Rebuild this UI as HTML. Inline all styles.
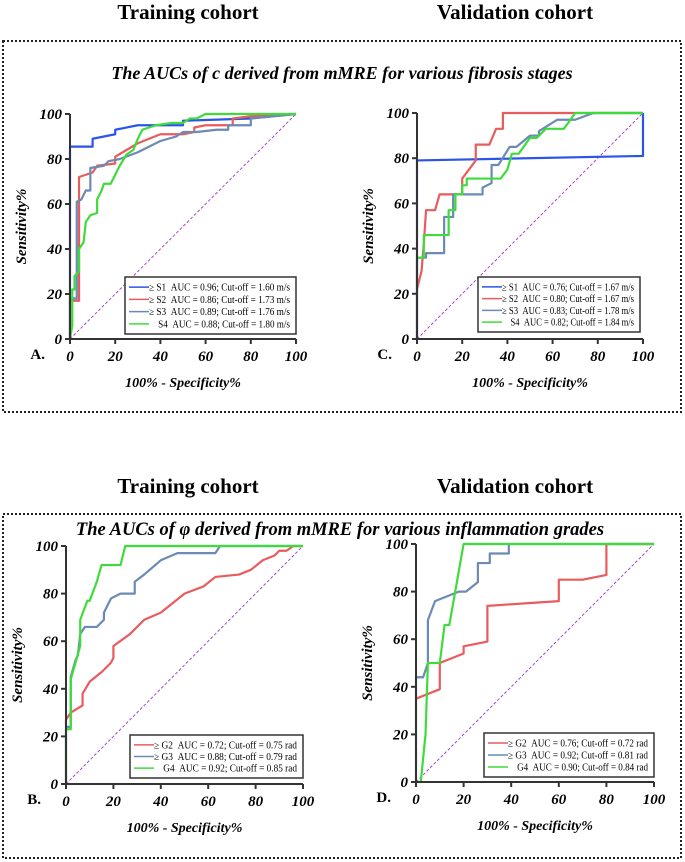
<!DOCTYPE html>
<html><head><meta charset="utf-8"><style>
body{margin:0;background:#fff;}
svg{display:block;font-family:"Liberation Serif",serif;}
</style></head><body>
<svg id="fig" width="685" height="862" viewBox="0 0 685 862">
<text x="188" y="19" text-anchor="middle" font-size="21" font-weight="bold">Training cohort</text>
<text x="515" y="19" text-anchor="middle" font-size="21" font-weight="bold">Validation cohort</text>
<rect x="3" y="41" width="678" height="371" fill="none" stroke="#222" stroke-width="2" stroke-dasharray="2,2"/>
<text x="342" y="79" text-anchor="middle" font-size="18" font-weight="bold" font-style="italic">The AUCs of  c derived from mMRE for various fibrosis stages</text>
<text x="188" y="493" text-anchor="middle" font-size="21" font-weight="bold">Training cohort</text>
<text x="515" y="493" text-anchor="middle" font-size="21" font-weight="bold">Validation cohort</text>
<rect x="3" y="514" width="678" height="344" fill="none" stroke="#222" stroke-width="2" stroke-dasharray="2,2"/>
<text x="340" y="535" text-anchor="middle" font-size="18.5" font-weight="bold" font-style="italic">The AUCs of  φ  derived from mMRE for various inflammation grades</text>
</svg>
<script>
const ticks=[0,20,40,60,80,100];
const namesA=["≥ S1  AUC = 0.96; Cut-off = 1.60 m/s","≥ S2  AUC = 0.86; Cut-off = 1.73 m/s","≥ S3  AUC = 0.89; Cut-off = 1.76 m/s","    S4  AUC = 0.88; Cut-off = 1.80 m/s"];
const a1=[[0,0],[0,85.5],[10,85.5],[10,89],[20,91],[20,93],[30,95],[50,95],[50,97],[80,98],[100,100]];
const a2=[[0,0],[0,17],[4,17],[4,72],[10,74],[12,77],[20,78],[20,81],[25,84],[30,87],[40,91],[50,91],[55,92],[55,94],[60,95],[72,95],[72,98],[80,99],[100,100]];
const a3=[[0,0],[0,18],[3,18],[3,61],[5,62],[7,66],[9,66],[9,76],[15,77],[17,79],[22,80],[30,83],[40,88],[47,90],[50,92],[56,92],[65,93],[70,93],[70,95],[80,95],[80,98],[100,100]];
const a4=[[0,0],[1,6],[1,22],[2,22],[2,28],[4,30],[4,40],[6,43],[7,52],[9,55],[12,56],[12,62],[14,66],[15,69],[18,69],[20,73],[22,77],[25,82],[28,84],[30,89],[32,93],[38,95],[45,96],[50,96],[53,98],[56,98],[60,100],[100,100]];
const namesC=["≥ S1  AUC = 0.76; Cut-off = 1.67 m/s","≥ S2  AUC = 0.80; Cut-off = 1.67 m/s","≥ S3  AUC = 0.83; Cut-off = 1.78 m/s","    S4  AUC = 0.82; Cut-off = 1.84 m/s"];
const c1=[[0,0],[0,79],[100,81],[100,100]];
const c2=[[0,22],[2,30],[3,42],[4,57],[8,57],[10,64],[20,64],[20,71],[26,79],[26,86],[32,86],[35,93],[38,93],[38,100],[100,100]];
const c3=[[0,0],[0,36],[4,36],[4,38],[12,38],[12,54],[16,54],[16,64],[29,64],[29,67],[33,69],[33,77],[36,77],[41,85],[44,85],[50,90],[54,90],[54,92],[62,97],[70,97],[78,100],[100,100]];
const c4=[[0,36],[3,36],[3,46],[14,46],[14,57],[17,57],[17,64],[20,64],[20,68],[22,68],[22,71],[37,71],[40,75],[42,82],[45,82],[50,89],[53,89],[57,93],[65,93],[70,100],[100,100]];
const namesB=["≥ G2  AUC = 0.72; Cut-off = 0.75 rad","≥ G3  AUC = 0.88; Cut-off = 0.79 rad","    G4  AUC = 0.92; Cut-off = 0.85 rad"];
const b1=[[0,24],[0,27],[2,30],[7,33],[7,38],[10,43],[15,47],[19,51],[20,53],[20,58],[27,63],[33,69],[40,72],[45,76],[50,80],[58,83],[63,87],[73,88],[78,90],[83,94],[88,96],[90,98],[93,98],[96,100],[100,100]];
const b2=[[0,0],[0,24],[2,24],[2,45],[4,52],[5,54],[6,63],[8,66],[13,66],[16,69],[16,72],[19,78],[23,80],[29,80],[29,85],[33,88],[40,94],[47,97],[63,97],[65,100],[100,100]];
const b3=[[0,0],[0,23],[2,23],[2,44],[6,58],[6,69],[9,77],[10,77],[13,85],[15,92],[23,92],[25,100],[100,100]];
const namesD=["≥ G2  AUC = 0.76; Cut-off = 0.72 rad","≥ G3  AUC = 0.92; Cut-off = 0.81 rad","    G4  AUC = 0.90; Cut-off = 0.84 rad"];
const d1=[[0,35],[10,39],[10,50],[20,54],[20,57],[30,59],[30,74],[60,76],[60,85],[70,85],[80,87],[80,100],[100,100]];
const d2=[[0,0],[0,44],[3,44],[5,50],[5,68],[8,76],[18,80],[21,80],[26,84],[26,92],[31,92],[31,96],[39,96],[39,100],[100,100]];
const d3=[[0,0],[2,0],[4,20],[5,50],[10,50],[12,66],[14,66],[20,100],[100,100]];

const NS="http://www.w3.org/2000/svg";
const svg=document.getElementById('fig');
function mk(tag,attrs,parent){const e=document.createElementNS(NS,tag);for(const k in attrs)e.setAttribute(k,attrs[k]);(parent||svg).appendChild(e);return e;}
const BLUE="#2b55ea",RED="#e85c5e",STEEL="#6b8bb6",GREEN="#3edc3a";
function panel(id,label,g,series,colors,names,leg){
  const grp=mk('g',{});
  
  
  const sx=v=>g.x0+(g.x1-g.x0)*v/100, sy=v=>g.y0-(g.y0-g.y1)*v/100;
  const diag=mk('line',{x1:sx(0),y1:sy(0),x2:sx(100),y2:sy(100),stroke:"#a54ac8","stroke-width":1,"stroke-dasharray":"3,2"},grp);
  
  
  series.forEach((s,i)=>{
    const p=mk('polyline',{points:s.map(q=>sx(q[0])+','+sy(q[1])).join(' '),fill:'none',stroke:colors[i],'stroke-width':2.2,'stroke-linejoin':'round'},grp);
    
    
  });
  const ya=mk('line',{x1:g.x0,y1:g.y1,x2:g.x0,y2:g.y0+1,stroke:'#333','stroke-width':2},grp);
  
  
  const xa=mk('line',{x1:g.x0-1,y1:g.y0,x2:g.x1,y2:g.y0,stroke:'#333','stroke-width':2},grp);
  
  
  ticks.forEach(t=>{
    mk('line',{x1:g.x0-5,y1:sy(t),x2:g.x0,y2:sy(t),stroke:'#333','stroke-width':2},grp);
    mk('line',{x1:sx(t),y1:g.y0,x2:sx(t),y2:g.y0+5,stroke:'#333','stroke-width':2},grp);
    const yl=mk('text',{x:g.x0-8,y:sy(t)+5,'text-anchor':'end','font-size':15,'font-weight':'bold','font-style':'italic'},grp);
    yl.textContent=t;
    
    
    const xl=mk('text',{x:sx(t),y:g.y0+22,'text-anchor':'middle','font-size':15,'font-weight':'bold','font-style':'italic'},grp);
    xl.textContent=t;
    
    
  });
  const lb=mk('text',{x:g.x0-25,y:g.y0+20,'text-anchor':'end','font-size':15,'font-weight':'bold'},grp);
  lb.textContent=label;
  
  
  const xt=mk('text',{x:(g.x0+g.x1)/2,y:g.y0+48,'text-anchor':'middle','font-size':14,'font-weight':'bold','font-style':'italic'},grp);
  xt.textContent="100% - Specificity%";
  
  
  const yx=g.x0-44, yy=(g.y0+g.y1)/2;
  const yt=mk('text',{x:yx,y:yy,'text-anchor':'middle','font-size':15,'font-weight':'bold','font-style':'italic',transform:`rotate(-90 ${yx} ${yy})`},grp);
  yt.textContent="Sensitivity%";
  
  
  const box=mk('rect',{x:leg.x,y:leg.y,width:leg.w,height:leg.h,fill:'#fff',stroke:'#333','stroke-width':1.5},grp);
  
  
  const step=(leg.h-8)/names.length;
  names.forEach((n,i)=>{
    const yy2=leg.y+4+step*(i+0.5);
    mk('line',{x1:leg.x+4,y1:yy2,x2:leg.x+24,y2:yy2,stroke:colors[i],'stroke-width':1.5},grp);
    const t=mk('text',{x:leg.x+24,y:yy2+3.5,'font-size':10,'textLength':leg.w-30,'lengthAdjust':'spacingAndGlyphs'},grp);
    t.textContent=n.replace(/ /g,'\u00a0');
    
    
  });
}
panel('a','A.',{x0:70,x1:296,y1:114,y0:339},[a1,a2,a3,a4],[BLUE,RED,STEEL,GREEN],namesA,{x:125,y:277,w:171,h:57});
panel('c','C.',{x0:417,x1:643,y1:113,y0:339},[c1,c2,c3,c4],[BLUE,RED,STEEL,GREEN],namesC,{x:478,y:277,w:162,h:55});
panel('b','B.',{x0:66,x1:303,y1:546,y0:784},[b1,b2,b3],[RED,STEEL,GREEN],namesB,{x:130,y:735,w:173,h:43});
panel('d','D.',{x0:416,x1:654,y1:544,y0:782},[d1,d2,d3],[RED,STEEL,GREEN],namesD,{x:484,y:733,w:170,h:44});
</script>
</body></html>
